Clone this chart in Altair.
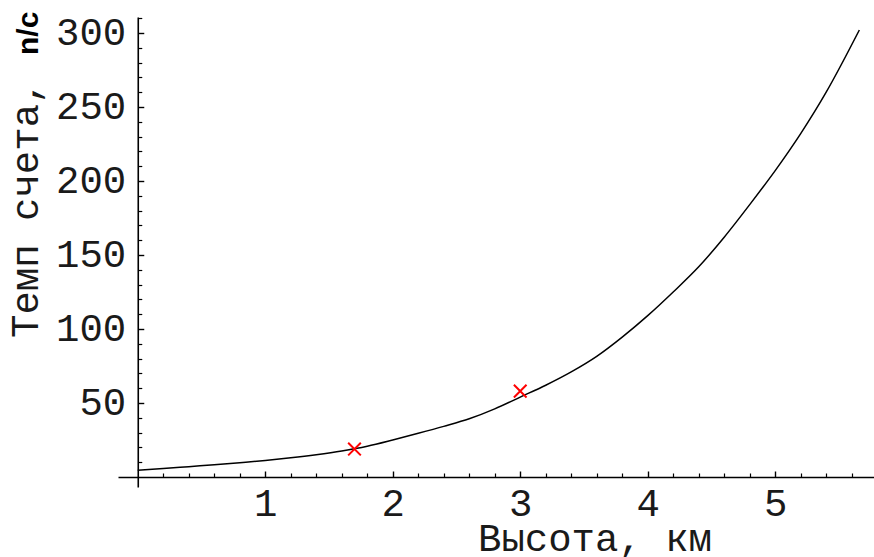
import altair as alt
import pandas as pd

# ---- data ----
curve_x = [0.0, 0.2, 0.4, 0.6, 0.8, 1.0, 1.2, 1.4, 1.6, 1.8, 2.0, 2.2, 2.4, 2.6, 2.8,
           3.0, 3.2, 3.4, 3.6, 3.8, 4.0, 4.2, 4.4, 4.6, 4.8, 5.0, 5.2, 5.4, 5.66]
curve_y = [4.5, 5.7, 7.0, 8.3, 9.7, 11.2, 13.0, 15.1, 17.6, 20.8, 25.0, 29.5, 34.2, 39.3, 46.0,
           54.0, 62.0, 71.0, 81.5, 94.5, 109.0, 125.0, 142.0, 162.0, 184.0, 207.0, 232.0, 260.0, 302.0]
obs_x = [1.7, 3.0]
obs_y = [18.9, 58.0]

x_major = [1, 2, 3, 4, 5]
x_minor = [0.2, 0.4, 0.6, 0.8, 1.2, 1.4, 1.6, 1.8, 2.2, 2.4, 2.6, 2.8, 3.2, 3.4, 3.6, 3.8,
           4.2, 4.4, 4.6, 4.8, 5.2, 5.4, 5.6]
y_major = [50, 100, 150, 200, 250, 300]
y_minor = [10, 20, 30, 40, 60, 70, 80, 90, 110, 120, 130, 140, 160, 170, 180, 190,
           210, 220, 230, 240, 260, 270, 280, 290, 310]

x_title = "Высота, км"
y_title_main = "Темп счета, "
y_title_unit = "n/c"

# ---- layout ----
W, H = 756, 470
PAD_L, PAD_T = 118, 17
X_DOM = [-0.155, 5.775]
Y_DOM = [-6.76, 310.8]
x0px = (0 - X_DOM[0]) / (X_DOM[1] - X_DOM[0]) * W
y0px = H - (0 - Y_DOM[0]) / (Y_DOM[1] - Y_DOM[0]) * H

MONO = "Liberation Mono"
FS = 39
TXT = "#1a1a1a"

xs = alt.Scale(domain=X_DOM, nice=False, zero=False)
ys = alt.Scale(domain=Y_DOM, nice=False, zero=False)

curve_df = pd.DataFrame({"x": curve_x, "y": curve_y})
obs_df = pd.DataFrame({"x": obs_x, "y": obs_y})

# label axes (no lines)
ax_x_lab = alt.Axis(orient="bottom", offset=-(H - y0px), values=x_major, domain=False,
                    ticks=False, tickSize=0, grid=False, labelFont=MONO, labelFontSize=FS,
                    labelColor=TXT, labelPadding=8, title=None, labelFlush=False,
                    labelOverlap=False)
ax_y_lab = alt.Axis(orient="left", offset=-x0px, values=y_major, domain=False,
                    ticks=False, tickSize=0, grid=False, labelFont=MONO, labelFontSize=FS,
                    labelColor=TXT, labelPadding=12, title=None, labelFlush=False,
                    labelOverlap=False)
# major ticks + axis lines, ticks pointing inward
ax_x_maj = alt.Axis(orient="top", offset=-y0px, values=x_major, domain=True,
                    domainColor="black", domainWidth=1.6, ticks=True, tickSize=6,
                    tickColor="black", tickWidth=1.4, labels=False, grid=False, title=None)
ax_y_maj = alt.Axis(orient="right", offset=-(W - x0px), values=y_major, domain=True,
                    domainColor="black", domainWidth=1.6, ticks=True, tickSize=6,
                    tickColor="black", tickWidth=1.4, labels=False, grid=False, title=None)
# minor ticks
ax_x_min = alt.Axis(orient="top", offset=-y0px, values=x_minor, domain=False,
                    ticks=True, tickSize=4, tickColor="black", tickWidth=1.2,
                    labels=False, grid=False, title=None)
ax_y_min = alt.Axis(orient="right", offset=-(W - x0px), values=y_minor, domain=False,
                    ticks=True, tickSize=4, tickColor="black", tickWidth=1.2,
                    labels=False, grid=False, title=None)

curve = alt.Chart(curve_df).mark_line(color="black", strokeWidth=1.5, interpolate="monotone").encode(
    x=alt.X("x:Q", scale=xs, axis=ax_x_lab),
    y=alt.Y("y:Q", scale=ys, axis=ax_y_lab),
)

XPATH = "M-1,-1L1,1M-1,1L1,-1"
points = alt.Chart(obs_df).mark_point(shape=XPATH, filled=False, color="red",
                                       strokeWidth=2, size=160, opacity=1).encode(
    x=alt.X("x:Q", scale=xs, axis=ax_x_maj),
    y=alt.Y("y:Q", scale=ys, axis=ax_y_maj),
)

minor = alt.Chart(curve_df).mark_line(opacity=0).encode(
    x=alt.X("x:Q", scale=xs, axis=ax_x_min),
    y=alt.Y("y:Q", scale=ys, axis=ax_y_min),
)

xt = alt.Chart(pd.DataFrame({"t": [x_title]})).mark_text(
    font=MONO, fontSize=39, color=TXT, align="center", baseline="alphabetic"
).encode(text="t:N", x=alt.value(477), y=alt.value(534))

yt1 = alt.Chart(pd.DataFrame({"t": [y_title_main]})).mark_text(
    font=MONO, fontSize=39, color=TXT, align="left", baseline="alphabetic", angle=270
).encode(text="t:N", x=alt.value(-80), y=alt.value(321))

yt2 = alt.Chart(pd.DataFrame({"t": [y_title_unit]})).mark_text(
    font="Liberation Sans", fontSize=30, fontWeight="bold", color="black",
    align="left", baseline="alphabetic", angle=270
).encode(text="t:N", x=alt.value(-80), y=alt.value(38))

chart = alt.layer(minor, curve, points, xt, yt1, yt2).resolve_axis(
    x="independent", y="independent"
).properties(
    width=W, height=H,
    autosize=alt.AutoSizeParams(type="none"),
    padding={"left": PAD_L, "top": PAD_T, "right": 0, "bottom": 557 - PAD_T - H},
    background="white",
).configure_view(stroke=None)

chart.save("out.html", embed_options={"renderer": "svg", "actions": False})
